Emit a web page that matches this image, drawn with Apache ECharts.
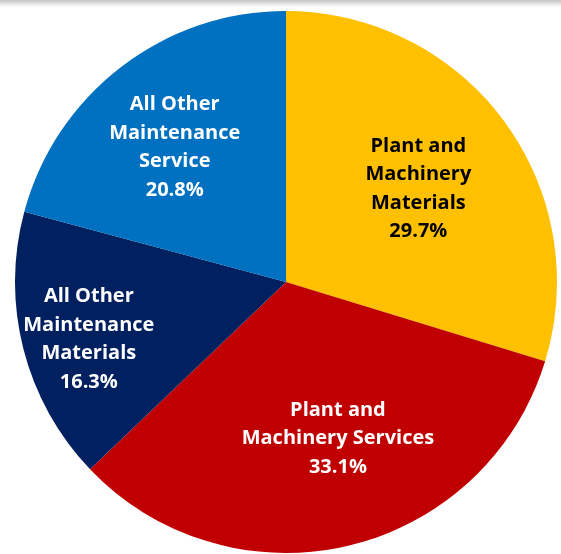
<!DOCTYPE html>
<html>
<head>
<meta charset="utf-8">
<script src="https://cdn.jsdelivr.net/npm/echarts@6/dist/echarts.min.js"></script>
<style>
  html, body { margin: 0; padding: 0; background: #ffffff; }
  #chart { width: 561px; height: 554px; }
</style>
</head>
<body>
<div id="chart"></div>
<script>
// Maintenance spend split (percent of total)
const categories = [
  'Plant and\nMachinery\nMaterials',
  'Plant and\nMachinery Services',
  'All Other\nMaintenance\nMaterials',
  'All Other\nMaintenance\nService'
];
const shares = [29.7, 33.1, 16.3, 20.8];
const sliceColors = ['#FFC000', '#C00000', '#002060', '#0070C0'];
const labelColors = ['#000000', '#ffffff', '#ffffff', '#ffffff'];
// nudges from the default inside label anchor
const labelShift = [[21, -11], [20, 22], [-63, 23], [-27, -25]];

const chart = echarts.init(document.getElementById('chart'));

chart.setOption({
  animation: false,
  backgroundColor: '#ffffff',
  graphic: [{
    type: 'rect',
    left: 0, top: 0,
    shape: { width: 561, height: 7 },
    style: {
      fill: new echarts.graphic.LinearGradient(0, 0, 0, 1, [
        { offset: 0, color: '#c4c4c4' },
        { offset: 1, color: '#ffffff' }
      ])
    },
    silent: true
  }],
  series: [{
    type: 'pie',
    center: [286, 282],
    radius: [0, 271],
    startAngle: 90,
    clockwise: true,
    avoidLabelOverlap: false,
    itemStyle: { borderWidth: 0 },
    label: {
      show: true,
      position: 'inside',
      fontFamily: '"Open Sans", "Liberation Sans", sans-serif',
      fontWeight: 'bold',
      fontSize: 20,
      lineHeight: 28.5,
      align: 'center',
      formatter: p => p.name + '\n' + p.value.toFixed(1) + '%'
    },
    labelLine: { show: false },
    labelLayout: params => ({
      dx: labelShift[params.dataIndex][0],
      dy: labelShift[params.dataIndex][1]
    }),
    data: categories.map((name, i) => ({
      name: name,
      value: shares[i],
      itemStyle: { color: sliceColors[i] },
      label: { color: labelColors[i] }
    }))
  }]
});
</script>
</body>
</html>
